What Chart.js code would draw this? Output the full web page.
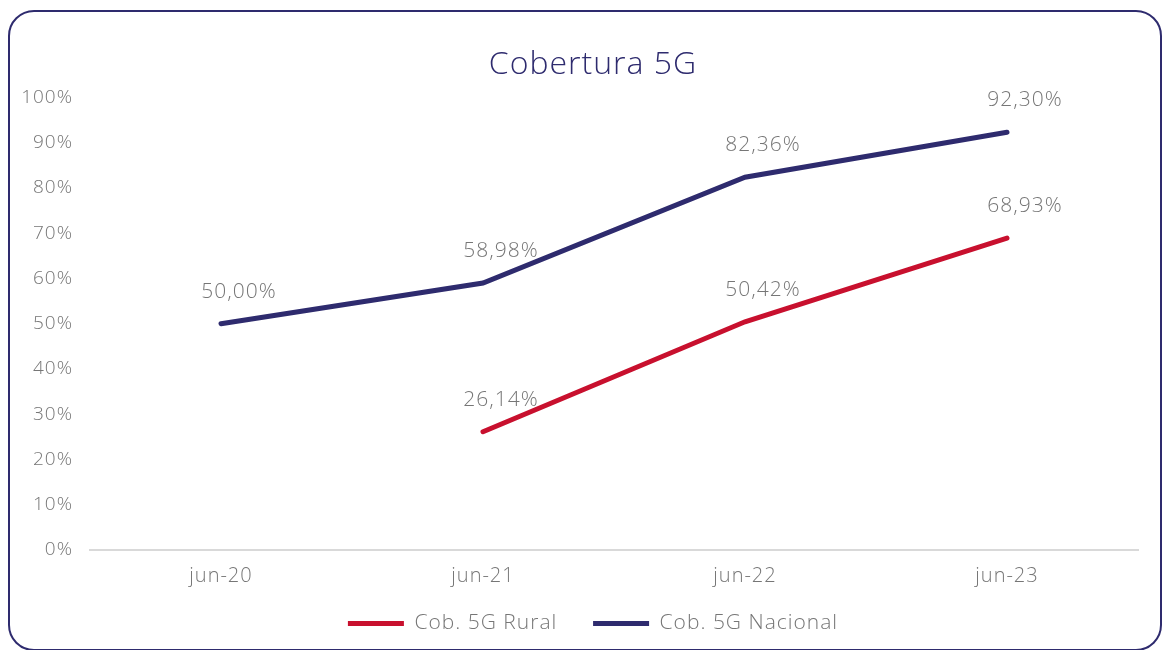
<!DOCTYPE html>
<html>
<head>
<meta charset="utf-8">
<script src="https://cdn.jsdelivr.net/npm/chart.js@4/dist/chart.umd.min.js"></script>
<style>
  html, body { margin: 0; padding: 0; background: #fff; }
  #wrap { position: relative; width: 1163px; height: 650px; overflow: hidden; }
  #frame { position: absolute; left: 8px; top: 10px; width: 1150px; height: 637px; border: 2px solid #2e2b6e; border-radius: 26px; }
  canvas { position: absolute; left: 0; top: 0; }
</style>
</head>
<body>
<div id="wrap">
  <div id="frame"></div>
  <canvas id="chart" width="1163" height="650"></canvas>
</div>
<script>
const LABELS = ["jun-20", "jun-21", "jun-22", "jun-23"];
const RURAL = [null, 26.14, 50.42, 68.93];
const NACIONAL = [50.00, 58.98, 82.36, 92.30];
const Y_TICKS = [0, 10, 20, 30, 40, 50, 60, 70, 80, 90, 100];

const FONT = '"Open Sans", Lato, sans-serif';
const GREY = "#767676";
const NAVY = "#2e2b6e";
const RED = "#c8102e";

const fmt = v => v.toFixed(2).replace(".", ",") + "%";

// letra mas ancha, parecida a la original
const spacing = {
  id: "spacing",
  beforeUpdate(chart) { chart.ctx.letterSpacing = "1px"; },
  beforeDraw(chart) { chart.ctx.letterSpacing = "1px"; }
};

// titulo y leyenda algo desplazados a la derecha, como en el original
const shiftBoxes = {
  id: "shiftBoxes",
  afterLayout(chart) {
    [chart.titleBlock, chart.legend].forEach(b => { b.left += 14; b.right += 14; });
  }
};

// etiquetas de valor encima de cada punto
const valueLabels = {
  id: "valueLabels",
  afterDatasetsDraw(chart) {
    const ctx = chart.ctx;
    ctx.save();
    ctx.font = "300 21px " + FONT;
    ctx.fillStyle = GREY;
    ctx.textAlign = "center";
    ctx.textBaseline = "middle";
    chart.data.datasets.forEach((ds, i) => {
      chart.getDatasetMeta(i).data.forEach((pt, j) => {
        if (ds.data[j] == null) return;
        ctx.fillText(fmt(ds.data[j]), pt.x + 18, pt.y - 32);
      });
    });
    ctx.restore();
  }
};

new Chart(document.getElementById("chart"), {
  type: "line",
  data: {
    labels: LABELS,
    datasets: [
      { label: "Cob. 5G Rural", data: RURAL, borderColor: RED, backgroundColor: RED, borderWidth: 5, borderCapStyle: "round", pointRadius: 0, tension: 0 },
      { label: "Cob. 5G Nacional", data: NACIONAL, borderColor: NAVY, backgroundColor: NAVY, borderWidth: 5, borderCapStyle: "round", pointRadius: 0, tension: 0 }
    ]
  },
  options: {
    responsive: false,
    animation: false,
    layout: { padding: { left: 20, right: 25, top: 46, bottom: 6 } },
    plugins: {
      title: { display: true, text: "Cobertura 5G", color: NAVY, font: { family: FONT, size: 32, weight: "300" }, padding: { top: 0, bottom: 13 } },
      legend: {
        position: "bottom",
        labels: {
          usePointStyle: true, pointStyle: "line", pointStyleWidth: 56, color: GREY,
          font: { family: FONT, size: 21, weight: "300" }, padding: 10,
          // mas hueco entre las dos entradas
          generateLabels(chart) {
            const items = Chart.defaults.plugins.legend.labels.generateLabels(chart);
            return items.map((it, i) => i < items.length - 1 ? { ...it, text: it.text + "    " } : it);
          }
        }
      },
      tooltip: { enabled: false }
    },
    scales: {
      x: {
        offset: true,
        grid: { display: false, drawTicks: false },
        border: { display: true, color: "#d9d9d9", width: 2 },
        ticks: { color: GREY, font: { family: FONT, size: 20, weight: "300" }, padding: 14 },
        afterFit(s) { s.height = 53; }
      },
      y: {
        min: 0, max: 100,
        afterBuildTicks(s) { s.ticks = Y_TICKS.map(v => ({ value: v })); },
        grid: { display: false, drawTicks: false },
        border: { display: false },
        ticks: { color: GREY, font: { family: FONT, size: 19, weight: "300" }, padding: 17, callback: v => v + "%" },
        afterFit(s) { s.width = 70; }
      }
    }
  },
  plugins: [spacing, shiftBoxes, valueLabels]
});
</script>
</body>
</html>
